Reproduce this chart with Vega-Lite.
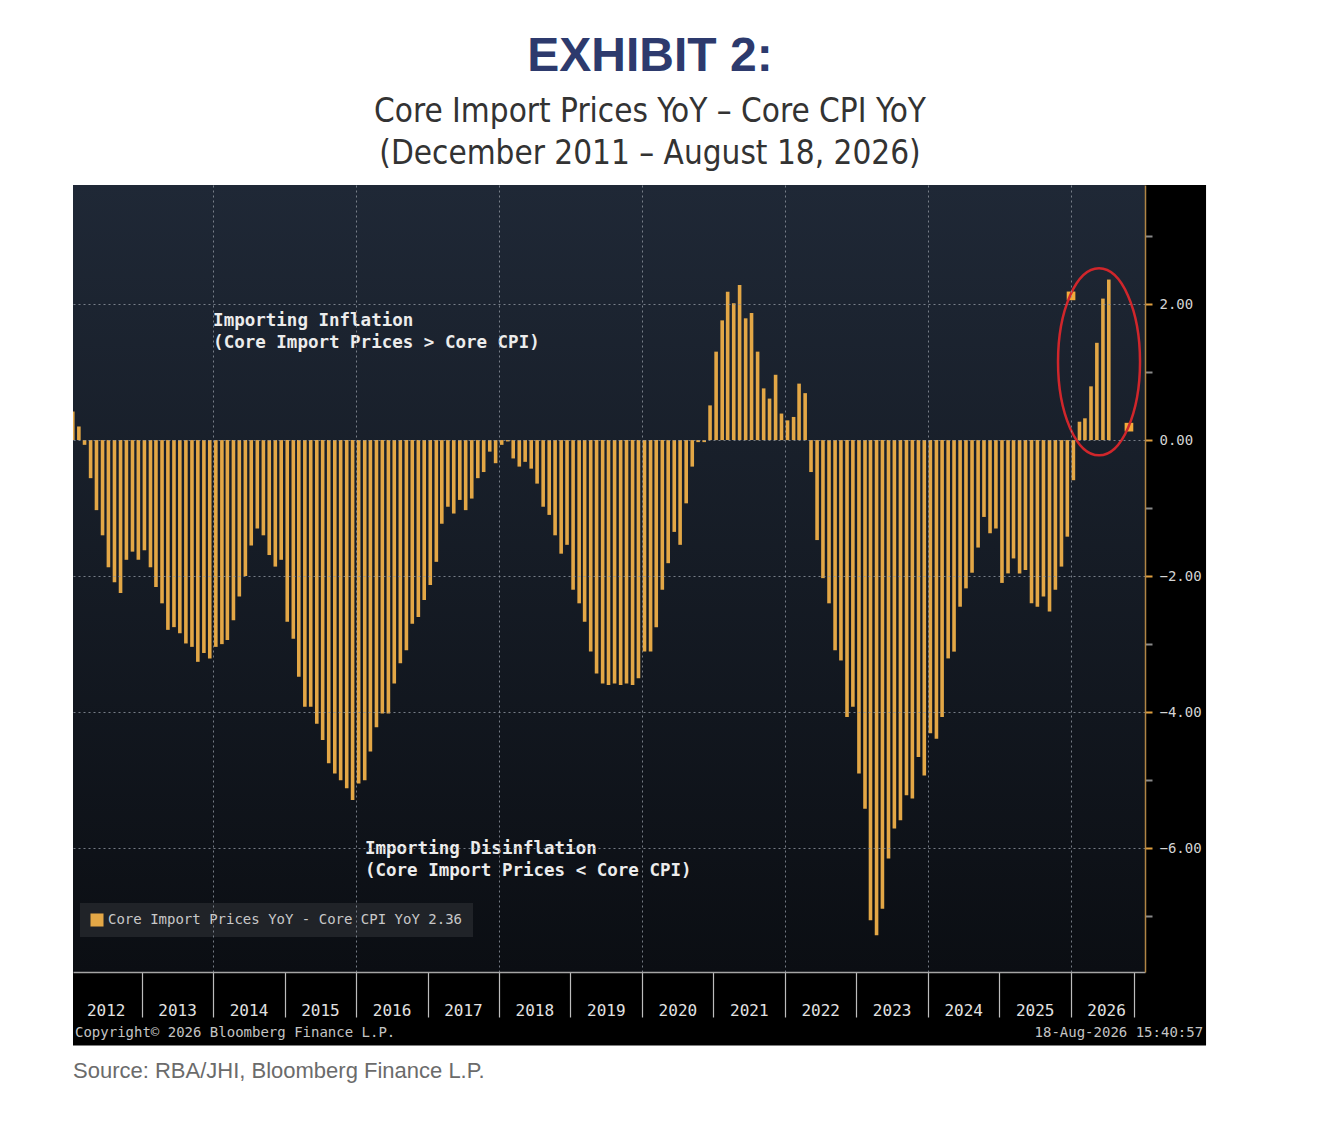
{
  "$schema": "https://vega.github.io/schema/vega-lite/v6.json",
  "width": 1072,
  "height": 787,
  "padding": {"left": 73, "top": 33, "right": 0, "bottom": 0},
  "background": "white",
  "title": {
    "text": "EXHIBIT 2:",
    "subtitle": ["Core Import Prices YoY – Core CPI YoY", "(December 2011 – August 18, 2026)"],
    "anchor": "middle",
    "frame": "group",
    "dx": 41,
    "offset": 14,
    "font": "Liberation Sans",
    "fontSize": 48,
    "fontWeight": "bold",
    "color": "#2d3a6d",
    "subtitleFont": "DejaVu Sans Condensed",
    "subtitleFontSize": 33,
    "subtitleColor": "#333333",
    "subtitleLineHeight": 42,
    "subtitlePadding": 15
  },
  "config": {
    "view": {"stroke": null}
  },
  "resolve": {"axis": {"x": "independent"}},
  "data": {
    "values": [
      {"date": "2011-12-15", "value": 0.45},
      {"date": "2012-01-15", "value": 0.42}, {"date": "2012-02-15", "value": 0.20}, {"date": "2012-03-15", "value": -0.07},
      {"date": "2012-04-15", "value": -0.56}, {"date": "2012-05-15", "value": -1.03}, {"date": "2012-06-15", "value": -1.40},
      {"date": "2012-07-15", "value": -1.87}, {"date": "2012-08-15", "value": -2.09}, {"date": "2012-09-15", "value": -2.25},
      {"date": "2012-10-15", "value": -1.76}, {"date": "2012-11-15", "value": -1.64}, {"date": "2012-12-15", "value": -1.76},
      {"date": "2013-01-15", "value": -1.62}, {"date": "2013-02-15", "value": -1.87}, {"date": "2013-03-15", "value": -2.16},
      {"date": "2013-04-15", "value": -2.40}, {"date": "2013-05-15", "value": -2.79}, {"date": "2013-06-15", "value": -2.75},
      {"date": "2013-07-15", "value": -2.84}, {"date": "2013-08-15", "value": -2.99}, {"date": "2013-09-15", "value": -3.04},
      {"date": "2013-10-15", "value": -3.26}, {"date": "2013-11-15", "value": -3.13}, {"date": "2013-12-15", "value": -3.21},
      {"date": "2014-01-15", "value": -3.04}, {"date": "2014-02-15", "value": -3.00}, {"date": "2014-03-15", "value": -2.94},
      {"date": "2014-04-15", "value": -2.65}, {"date": "2014-05-15", "value": -2.30}, {"date": "2014-06-15", "value": -2.00},
      {"date": "2014-07-15", "value": -1.55}, {"date": "2014-08-15", "value": -1.30}, {"date": "2014-09-15", "value": -1.40},
      {"date": "2014-10-15", "value": -1.69}, {"date": "2014-11-15", "value": -1.86}, {"date": "2014-12-15", "value": -1.76},
      {"date": "2015-01-15", "value": -2.67}, {"date": "2015-02-15", "value": -2.92}, {"date": "2015-03-15", "value": -3.48},
      {"date": "2015-04-15", "value": -3.92}, {"date": "2015-05-15", "value": -3.92}, {"date": "2015-06-15", "value": -4.17},
      {"date": "2015-07-15", "value": -4.41}, {"date": "2015-08-15", "value": -4.75}, {"date": "2015-09-15", "value": -4.90},
      {"date": "2015-10-15", "value": -5.00}, {"date": "2015-11-15", "value": -5.12}, {"date": "2015-12-15", "value": -5.29},
      {"date": "2016-01-15", "value": -5.05}, {"date": "2016-02-15", "value": -5.00}, {"date": "2016-03-15", "value": -4.58},
      {"date": "2016-04-15", "value": -4.22}, {"date": "2016-05-15", "value": -4.02}, {"date": "2016-06-15", "value": -4.02},
      {"date": "2016-07-15", "value": -3.58}, {"date": "2016-08-15", "value": -3.28}, {"date": "2016-09-15", "value": -3.09},
      {"date": "2016-10-15", "value": -2.70}, {"date": "2016-11-15", "value": -2.60}, {"date": "2016-12-15", "value": -2.35},
      {"date": "2017-01-15", "value": -2.13}, {"date": "2017-02-15", "value": -1.79}, {"date": "2017-03-15", "value": -1.23},
      {"date": "2017-04-15", "value": -0.98}, {"date": "2017-05-15", "value": -1.08}, {"date": "2017-06-15", "value": -0.88},
      {"date": "2017-07-15", "value": -1.03}, {"date": "2017-08-15", "value": -0.86}, {"date": "2017-09-15", "value": -0.56},
      {"date": "2017-10-15", "value": -0.47}, {"date": "2017-11-15", "value": -0.17}, {"date": "2017-12-15", "value": -0.34},
      {"date": "2018-01-15", "value": -0.07}, {"date": "2018-02-15", "value": -0.02}, {"date": "2018-03-15", "value": -0.27},
      {"date": "2018-04-15", "value": -0.39}, {"date": "2018-05-15", "value": -0.32}, {"date": "2018-06-15", "value": -0.42},
      {"date": "2018-07-15", "value": -0.64}, {"date": "2018-08-15", "value": -0.98}, {"date": "2018-09-15", "value": -1.10},
      {"date": "2018-10-15", "value": -1.40}, {"date": "2018-11-15", "value": -1.67}, {"date": "2018-12-15", "value": -1.54},
      {"date": "2019-01-15", "value": -2.20}, {"date": "2019-02-15", "value": -2.40}, {"date": "2019-03-15", "value": -2.67},
      {"date": "2019-04-15", "value": -3.11}, {"date": "2019-05-15", "value": -3.43}, {"date": "2019-06-15", "value": -3.58},
      {"date": "2019-07-15", "value": -3.60}, {"date": "2019-08-15", "value": -3.58}, {"date": "2019-09-15", "value": -3.60},
      {"date": "2019-10-15", "value": -3.58}, {"date": "2019-11-15", "value": -3.60}, {"date": "2019-12-15", "value": -3.50},
      {"date": "2020-01-15", "value": -3.11}, {"date": "2020-02-15", "value": -3.11}, {"date": "2020-03-15", "value": -2.75},
      {"date": "2020-04-15", "value": -2.20}, {"date": "2020-05-15", "value": -1.81}, {"date": "2020-06-15", "value": -1.35},
      {"date": "2020-07-15", "value": -1.54}, {"date": "2020-08-15", "value": -0.93}, {"date": "2020-09-15", "value": -0.39},
      {"date": "2020-10-15", "value": -0.03}, {"date": "2020-11-15", "value": -0.03}, {"date": "2020-12-15", "value": 0.51},
      {"date": "2021-01-15", "value": 1.30}, {"date": "2021-02-15", "value": 1.76}, {"date": "2021-03-15", "value": 2.18},
      {"date": "2021-04-15", "value": 2.01}, {"date": "2021-05-15", "value": 2.28}, {"date": "2021-06-15", "value": 1.79},
      {"date": "2021-07-15", "value": 1.87}, {"date": "2021-08-15", "value": 1.30}, {"date": "2021-09-15", "value": 0.76},
      {"date": "2021-10-15", "value": 0.61}, {"date": "2021-11-15", "value": 0.96}, {"date": "2021-12-15", "value": 0.39},
      {"date": "2022-01-15", "value": 0.29}, {"date": "2022-02-15", "value": 0.34}, {"date": "2022-03-15", "value": 0.83},
      {"date": "2022-04-15", "value": 0.69}, {"date": "2022-05-15", "value": -0.47}, {"date": "2022-06-15", "value": -1.47},
      {"date": "2022-07-15", "value": -2.03}, {"date": "2022-08-15", "value": -2.40}, {"date": "2022-09-15", "value": -3.09},
      {"date": "2022-10-15", "value": -3.24}, {"date": "2022-11-15", "value": -4.07}, {"date": "2022-12-15", "value": -3.92},
      {"date": "2023-01-15", "value": -4.90}, {"date": "2023-02-15", "value": -5.42}, {"date": "2023-03-15", "value": -7.06},
      {"date": "2023-04-15", "value": -7.28}, {"date": "2023-05-15", "value": -6.89}, {"date": "2023-06-15", "value": -6.15},
      {"date": "2023-07-15", "value": -5.71}, {"date": "2023-08-15", "value": -5.59}, {"date": "2023-09-15", "value": -5.22},
      {"date": "2023-10-15", "value": -5.27}, {"date": "2023-11-15", "value": -4.66}, {"date": "2023-12-15", "value": -4.93},
      {"date": "2024-01-15", "value": -4.31}, {"date": "2024-02-15", "value": -4.39}, {"date": "2024-03-15", "value": -4.07},
      {"date": "2024-04-15", "value": -3.21}, {"date": "2024-05-15", "value": -3.11}, {"date": "2024-06-15", "value": -2.45},
      {"date": "2024-07-15", "value": -2.18}, {"date": "2024-08-15", "value": -1.95}, {"date": "2024-09-15", "value": -1.58},
      {"date": "2024-10-15", "value": -1.13}, {"date": "2024-11-15", "value": -1.37}, {"date": "2024-12-15", "value": -1.30},
      {"date": "2025-01-15", "value": -2.10}, {"date": "2025-02-15", "value": -1.96}, {"date": "2025-03-15", "value": -1.74},
      {"date": "2025-04-15", "value": -1.96}, {"date": "2025-05-15", "value": -1.91}, {"date": "2025-06-15", "value": -2.40},
      {"date": "2025-07-15", "value": -2.45}, {"date": "2025-08-15", "value": -2.30}, {"date": "2025-09-15", "value": -2.52},
      {"date": "2025-10-15", "value": -2.20}, {"date": "2025-11-15", "value": -1.86}, {"date": "2025-12-15", "value": -1.42},
      {"date": "2026-01-15", "value": -0.59}, {"date": "2026-02-15", "value": 0.27}, {"date": "2026-03-15", "value": 0.32},
      {"date": "2026-04-15", "value": 0.79}, {"date": "2026-05-15", "value": 1.43}, {"date": "2026-06-15", "value": 2.08},
      {"date": "2026-07-15", "value": 2.36}
    ]
  },
  "layer": [
    {
      "data": {"values": [{}]},
      "mark": {"type": "rect", "color": "#000000"},
      "encoding": {
        "x": {
          "datum": {"year": 2012, "month": 1, "date": 16},
          "type": "temporal",
          "axis": {
            "orient": "top",
            "title": null,
            "zindex": 1,
            "values": [
              {"year": 2014, "month": 1, "date": 1}, {"year": 2016, "month": 1, "date": 1}, {"year": 2018, "month": 1, "date": 1},
              {"year": 2020, "month": 1, "date": 1}, {"year": 2022, "month": 1, "date": 1}, {"year": 2024, "month": 1, "date": 1},
              {"year": 2026, "month": 1, "date": 1}
            ],
            "domain": false,
            "ticks": false,
            "labels": false,
            "grid": true,
            "gridColor": "#9096a0",
            "gridDash": [2, 3],
            "gridOpacity": 0.8
          }
        },
        "x2": {"datum": {"year": 2027, "month": 11, "date": 24}},
        "y": {"datum": 3.75, "type": "quantitative", "title": null},
        "y2": {"datum": -8.9}
      }
    },
    {
      "data": {"values": [{}]},
      "mark": {
        "type": "rect",
        "color": {
          "gradient": "linear", "x1": 0, "y1": 0, "x2": 0, "y2": 1,
          "stops": [{"offset": 0, "color": "#1f2836"}, {"offset": 1, "color": "#0b0e13"}]
        }
      },
      "encoding": {
        "x": {"value": 0},
        "x2": {"value": "width"},
        "y": {"value": 0},
        "y2": {"value": "height"}
      }
    },
    {
      "mark": {"type": "bar", "width": 3.6, "clip": true},
      "encoding": {
        "x": {
          "field": "date",
          "type": "temporal",
          "scale": {"domain": [{"year": 2012, "month": 1, "date": 16}, {"year": 2027, "month": 1, "date": 16}], "padding": 0},
          "axis": {
            "orient": "bottom",
            "title": null,
            "zindex": 1,
            "values": [
              {"year": 2013, "month": 1, "date": 1}, {"year": 2014, "month": 1, "date": 1}, {"year": 2015, "month": 1, "date": 1},
              {"year": 2016, "month": 1, "date": 1}, {"year": 2017, "month": 1, "date": 1}, {"year": 2018, "month": 1, "date": 1},
              {"year": 2019, "month": 1, "date": 1}, {"year": 2020, "month": 1, "date": 1}, {"year": 2021, "month": 1, "date": 1},
              {"year": 2022, "month": 1, "date": 1}, {"year": 2023, "month": 1, "date": 1}, {"year": 2024, "month": 1, "date": 1},
              {"year": 2025, "month": 1, "date": 1}, {"year": 2026, "month": 1, "date": 1}, {"year": 2026, "month": 11, "date": 19}
            ],
            "labels": false,
            "tickSize": 45,
            "tickColor": "#bdbdbd",
            "tickWidth": 1.2,
            "domainColor": "#a5a5a5",
            "domainWidth": 1.5,
            "grid": false
          }
        },
        "y": {
          "field": "value",
          "type": "quantitative",
          "title": null,
          "scale": {"domain": [-7.82, 3.75], "nice": false, "zero": false, "padding": 0},
          "axis": {
            "orient": "right",
            "title": null,
            "zindex": 1,
            "values": [-7, -6, -5, -4, -3, -2, -1, 0, 1, 2, 3],
            "labelExpr": "datum.value % 2 == 0 ? format(datum.value, '.2f') : ''",
            "labelOverlap": false,
            "labelFont": "DejaVu Sans Mono",
            "labelFontSize": 14,
            "labelColor": "#d4d4d4",
            "labelPadding": 7,
            "tickSize": 7,
            "tickWidth": 2,
            "tickColor": {"condition": {"test": "datum.value % 2 != 0", "value": "#8a8a8a"}, "value": "#e0a040"},
            "domainColor": "#b08545",
            "domainWidth": 1.5,
            "grid": true,
            "gridColor": "#9096a0",
            "gridDash": [2, 3],
            "gridOpacity": {"condition": {"test": "datum.value % 2 != 0", "value": 0}, "value": 0.8}
          }
        },
        "color": {
          "datum": "Core Import Prices YoY - Core CPI YoY 2.36",
          "type": "nominal",
          "scale": {"range": ["#e3a746"]},
          "legend": {
            "title": null,
            "orient": "none",
            "legendX": 7,
            "legendY": 718,
            "fillColor": "#202328",
            "padding": 10,
            "symbolType": "square",
            "symbolSize": 170,
            "symbolStrokeWidth": 0,
            "symbolOffset": 0,
            "labelFont": "DejaVu Sans Mono",
            "labelFontSize": 14,
            "labelColor": "#c8c8c8",
            "labelLimit": 500
          }
        }
      }
    },
    {
      "data": {
        "values": [
          {"date": "2026-01-03", "value": 2.12},
          {"date": "2026-10-26", "value": 0.19}
        ]
      },
      "mark": {"type": "point", "shape": "square", "filled": true, "size": 75, "color": "#f2aa3a", "opacity": 1},
      "encoding": {
        "x": {"field": "date", "type": "temporal", "axis": null},
        "y": {"field": "value", "type": "quantitative", "title": null}
      }
    },
    {
      "data": {"values": [{}]},
      "mark": {
        "type": "point",
        "shape": "M 0.4385 0 C 0.4385 0.5523 0.2422 1 0 1 C -0.2422 1 -0.4385 0.5523 -0.4385 0 C -0.4385 -0.5523 -0.2422 -1 0 -1 C 0.2422 -1 0.4385 -0.5523 0.4385 0 Z",
        "size": 34969,
        "filled": false,
        "color": "#d0262b",
        "strokeWidth": 2.5,
        "opacity": 1
      },
      "encoding": {
        "x": {"datum": {"year": 2026, "month": 5, "date": 26}, "type": "temporal", "axis": null},
        "y": {"datum": 1.15, "type": "quantitative", "title": null}
      }
    },
    {
      "data": {"values": [{}]},
      "mark": {
        "type": "text",
        "text": ["Importing Inflation", "(Core Import Prices > Core CPI)"],
        "align": "left",
        "baseline": "top",
        "font": "DejaVu Sans Mono",
        "fontWeight": "bold",
        "fontSize": 17.5,
        "lineHeight": 22,
        "color": "#ececec"
      },
      "encoding": {
        "x": {"datum": {"year": 2014, "month": 1, "date": 1}, "type": "temporal", "axis": null},
        "y": {"datum": 1.88, "type": "quantitative", "title": null}
      }
    },
    {
      "data": {"values": [{}]},
      "mark": {
        "type": "text",
        "text": ["Importing Disinflation", "(Core Import Prices < Core CPI)"],
        "align": "left",
        "baseline": "top",
        "font": "DejaVu Sans Mono",
        "fontWeight": "bold",
        "fontSize": 17.5,
        "lineHeight": 22,
        "color": "#ececec"
      },
      "encoding": {
        "x": {"datum": {"year": 2016, "month": 2, "date": 16}, "type": "temporal", "axis": null},
        "y": {"datum": -5.88, "type": "quantitative", "title": null}
      }
    },
    {
      "data": {"values": [{}]},
      "mark": {
        "type": "text",
        "text": "Copyright© 2026 Bloomberg Finance L.P.",
        "align": "left",
        "baseline": "middle",
        "dx": 2,
        "font": "DejaVu Sans Mono",
        "fontSize": 14,
        "color": "#c4c4c4"
      },
      "encoding": {
        "x": {
          "datum": {"year": 2012, "month": 1, "date": 16},
          "type": "temporal",
          "axis": {
            "orient": "bottom",
            "title": null,
            "zindex": 1,
            "values": [
              {"year": 2012, "month": 7, "date": 1}, {"year": 2013, "month": 7, "date": 1}, {"year": 2014, "month": 7, "date": 1},
              {"year": 2015, "month": 7, "date": 1}, {"year": 2016, "month": 7, "date": 1}, {"year": 2017, "month": 7, "date": 1},
              {"year": 2018, "month": 7, "date": 1}, {"year": 2019, "month": 7, "date": 1}, {"year": 2020, "month": 7, "date": 1},
              {"year": 2021, "month": 7, "date": 1}, {"year": 2022, "month": 7, "date": 1}, {"year": 2023, "month": 7, "date": 1},
              {"year": 2024, "month": 7, "date": 1}, {"year": 2025, "month": 7, "date": 1}, {"year": 2026, "month": 7, "date": 1}
            ],
            "format": "%Y",
            "domain": false,
            "ticks": false,
            "tickSize": 0,
            "grid": false,
            "labelOverlap": false,
            "labelFlush": false,
            "labelAlign": "center",
            "labelBaseline": "top",
            "labelFont": "DejaVu Sans Mono",
            "labelFontSize": 16,
            "labelColor": "#e2e2e2",
            "labelPadding": 30
          }
        },
        "y": {"datum": -8.72, "type": "quantitative", "title": null}
      }
    },
    {
      "data": {"values": [{}]},
      "mark": {
        "type": "text",
        "text": "18-Aug-2026 15:40:57",
        "align": "right",
        "baseline": "middle",
        "font": "DejaVu Sans Mono",
        "fontSize": 14,
        "color": "#c4c4c4"
      },
      "encoding": {
        "x": {"datum": {"year": 2027, "month": 11, "date": 9}, "type": "temporal", "axis": null},
        "y": {"datum": -8.72, "type": "quantitative", "title": null}
      }
    },
    {
      "data": {"values": [{}]},
      "mark": {
        "type": "text",
        "text": "Source: RBA/JHI, Bloomberg Finance L.P.",
        "align": "left",
        "baseline": "middle",
        "font": "Liberation Sans",
        "fontSize": 22,
        "color": "#6b6b6b"
      },
      "encoding": {
        "x": {"datum": {"year": 2012, "month": 1, "date": 16}, "type": "temporal", "axis": null},
        "y": {"datum": -9.28, "type": "quantitative", "title": null}
      }
    }
  ]
}
